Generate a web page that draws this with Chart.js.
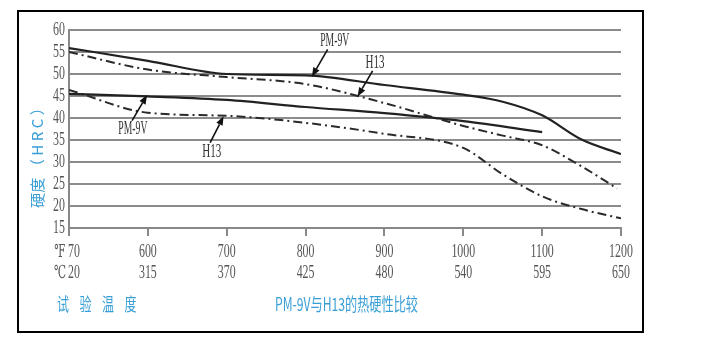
<!DOCTYPE html>
<html>
<head>
<meta charset="utf-8">
<script src="https://cdn.jsdelivr.net/npm/chart.js@4.4.1/dist/chart.umd.min.js"></script>
<style>
  html, body { margin: 0; padding: 0; background: #fff; }
  #wrap { position: relative; width: 708px; height: 343px; }
  #frame { position: absolute; left: 17px; top: 10px; width: 623px; height: 319px; border: 2px solid #000; }
  canvas { position: absolute; left: 0; top: 0; }
</style>
</head>
<body>
<div id="wrap">
  <div id="frame"></div>
  <canvas id="chart" width="708" height="343"></canvas>
</div>
<script>
// test temperatures, one tick per column
const tempF = ['70', '600', '700', '800', '900', '1000', '1100', '1200'];
const tempC = ['20', '315', '370', '425', '480', '540', '595', '650'];
const hardnessTicks = [60, 55, 50, 45, 40, 35, 30, 25, 20, 15];

// x is the temperature column (0 = 70°F ... 7 = 1200°F), y is HRC
const pm9vHighX = [0, 1, 2, 3, 4, 5, 5.5, 6, 6.5, 7];
const pm9vHighY = [55.9, 53.0, 50.0, 49.7, 47.5, 45.3, 43.7, 40.6, 35.1, 31.8];

const h13HighX = [0, 1, 2, 3, 4, 5, 5.5, 6, 6.5, 6.95];
const h13HighY = [55.0, 51.0, 49.3, 47.7, 43.4, 38.2, 36.0, 33.8, 29.0, 24.0];

const pm9vLowX = [0, 1, 2, 3, 4, 5, 6];
const pm9vLowY = [45.5, 44.9, 44.1, 42.5, 41.1, 39.3, 36.8];

const h13LowX = [0, 1, 2, 3, 4, 5, 5.5, 6, 6.5, 7];
const h13LowY = [46.4, 41.2, 40.5, 38.9, 36.4, 33.2, 27.2, 22.2, 19.3, 17.2];

// callouts: label spot, arrow tail, arrow head (all in chart units)
const callouts = [
    { text: 'PM-9V', lx: 3.37, ly: 57.4, tx: 3.28, ty: 55.6, hx: 3.08, hy: 49.4 },
    { text: 'H13',   lx: 3.88, ly: 52.4, tx: 3.85, ty: 50.7, hx: 3.66, hy: 44.9 },
    { text: 'PM-9V', lx: 0.81, ly: 37.6, tx: 0.80, ty: 39.4, hx: 0.99, hy: 45.2 },
    { text: 'H13',   lx: 1.81, ly: 32.2, tx: 1.79, ty: 34.4, hx: 1.96, hy: 40.4 }
];

const BLUE = '#3a9fd6';
const SERIF = '"Liberation Serif", "DejaVu Serif", serif';
const CJK = '"Noto Sans CJK SC", sans-serif';

const pts = (xs, ys) => xs.map((x, i) => ({ x, y: ys[i] }));

// draw text squeezed horizontally by factor s
function squeezed(ctx, text, x, y, font, color, s, align) {
    ctx.save();
    ctx.font = font;
    ctx.fillStyle = color;
    ctx.textBaseline = 'middle';
    ctx.textAlign = align || 'center';
    ctx.translate(x, y);
    ctx.scale(s, 1);
    ctx.fillText(text, 0, 0);
    ctx.restore();
}

// draw text squeezed to a given width
function fitText(ctx, text, x, y, width, font, color, align) {
    ctx.save();
    ctx.font = font;
    const w = ctx.measureText(text).width;
    ctx.restore();
    const left = align === 'center' ? x - width / 2 : x;
    squeezed(ctx, text, left, y, font, color, width / w, 'left');
}

const decorPlugin = {
    id: 'decor',
    afterDatasetsDraw(chart) {
        const ctx = chart.ctx;
        const xs = chart.scales.x, ys = chart.scales.y;

        callouts.forEach(c => {
            const lx = xs.getPixelForValue(c.lx), ly = ys.getPixelForValue(c.ly);
            const tx = xs.getPixelForValue(c.tx), ty = ys.getPixelForValue(c.ty);
            const hx = xs.getPixelForValue(c.hx), hy = ys.getPixelForValue(c.hy);
            const w = c.text === 'H13' ? 19 : 29;
            fitText(ctx, c.text, lx, ly, w, '19px ' + SERIF, '#333', 'center');

            const ang = Math.atan2(hy - ty, hx - tx);
            const len = 9, half = 3.5;
            const bx = hx - len * Math.cos(ang), by = hy - len * Math.sin(ang);
            ctx.save();
            ctx.strokeStyle = '#111';
            ctx.fillStyle = '#111';
            ctx.lineWidth = 1.6;
            ctx.beginPath();
            ctx.moveTo(tx, ty);
            ctx.lineTo(bx, by);
            ctx.stroke();
            ctx.beginPath();
            ctx.moveTo(hx, hy);
            ctx.lineTo(bx + half * Math.sin(ang), by - half * Math.cos(ang));
            ctx.lineTo(bx - half * Math.sin(ang), by + half * Math.cos(ang));
            ctx.closePath();
            ctx.fill();
            ctx.restore();
        });
    },
    afterDraw(chart) {
        const ctx = chart.ctx;
        const xs = chart.scales.x, ys = chart.scales.y;
        const tickFont = '18px ' + SERIF;
        const unitFont = '18px "DejaVu Serif", serif';

        // y tick labels, condensed like the print
        hardnessTicks.forEach(v => {
            squeezed(ctx, String(v), 65, ys.getPixelForValue(v), tickFont, '#555', 0.66, 'right');
        });

        // x tick labels: °F row and °C row
        const base = chart.chartArea.bottom;
        const rowF = base + 24, rowC = base + 45;
        tempF.forEach((f, i) => {
            const px = xs.getPixelForValue(i);
            if (i === 0) {
                squeezed(ctx, '℉', px - 9, rowF, unitFont, '#555', 0.6);
                squeezed(ctx, '℃', px - 9, rowC, unitFont, '#555', 0.6);
                squeezed(ctx, f, px + 5, rowF, tickFont, '#555', 0.66);
                squeezed(ctx, tempC[i], px + 5, rowC, tickFont, '#555', 0.66);
            } else {
                squeezed(ctx, f, px, rowF, tickFont, '#555', 0.66);
                squeezed(ctx, tempC[i], px, rowC, tickFont, '#555', 0.66);
            }
        });

        // y title, rotated
        ctx.save();
        ctx.translate(37, 154);
        ctx.rotate(-Math.PI / 2);
        fitText(ctx, '硬度 （ H R C ）', 0, 0, 108, '15px ' + CJK, BLUE, 'center');
        ctx.restore();

        // x title and caption
        ['试', '验', '温', '度'].forEach((ch, i) => {
            fitText(ctx, ch, 57 + i * 22.5, 304, 12, '18px ' + CJK, BLUE, 'left');
        });
        fitText(ctx, 'PM-9V与H13的热硬性比较', 275, 304, 143, '18px ' + CJK, BLUE, 'left');
    }
};

const solid = (data) => ({
    data, borderColor: '#222', borderWidth: 2.2, pointRadius: 0,
    cubicInterpolationMode: 'monotone', fill: false
});
const dashDot = (data) => ({
    data, borderColor: '#2a2a2a', borderWidth: 2, pointRadius: 0,
    borderDash: [9, 4, 2, 4], cubicInterpolationMode: 'monotone', fill: false
});

new Chart(document.getElementById('chart'), {
    type: 'line',
    data: {
        datasets: [
            Object.assign(solid(pts(pm9vHighX, pm9vHighY)), { label: 'PM-9V' }),
            Object.assign(dashDot(pts(h13HighX, h13HighY)), { label: 'H13' }),
            Object.assign(solid(pts(pm9vLowX, pm9vLowY)), { label: 'PM-9V' }),
            Object.assign(dashDot(pts(h13LowX, h13LowY)), { label: 'H13' })
        ]
    },
    options: {
        responsive: false,
        animation: false,
        layout: { padding: { left: 28, right: 87, top: 30, bottom: 0 } },
        plugins: {
            legend: { display: false },
            tooltip: { enabled: false }
        },
        scales: {
            x: {
                type: 'linear',
                min: 0,
                max: 7,
                afterBuildTicks: s => { s.ticks = tempF.map((_, i) => ({ value: i })); },
                afterFit: s => { s.height = 115; },
                ticks: { display: false, autoSkip: false },
                grid: { drawOnChartArea: false, tickLength: 8, color: '#888', lineWidth: 2 },
                border: { color: '#888', width: 2 }
            },
            y: {
                min: 15,
                max: 60,
                afterBuildTicks: s => { s.ticks = hardnessTicks.map(v => ({ value: v })); },
                afterFit: s => { s.width = 41; },
                ticks: { display: false, autoSkip: false },
                grid: { color: '#8c8c8c', lineWidth: 2, drawTicks: false },
                border: { color: '#888', width: 2 }
            }
        }
    },
    plugins: [decorPlugin]
});
</script>
</body>
</html>
